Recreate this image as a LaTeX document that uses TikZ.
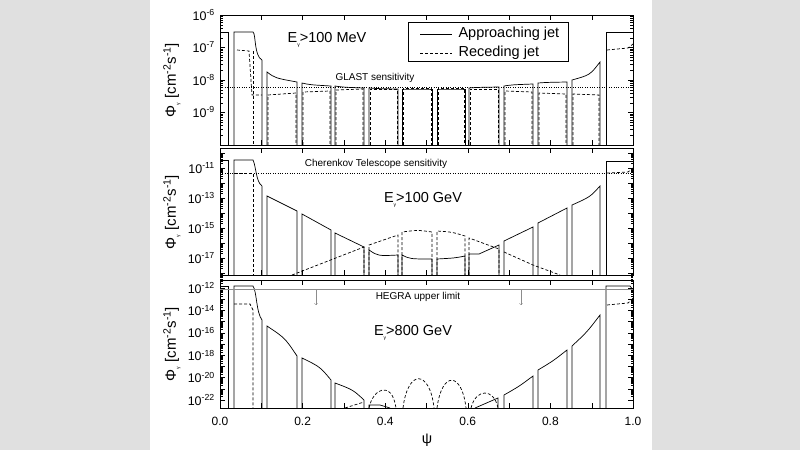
\documentclass[tikz,border=0pt]{standalone}
\usepackage{fontspec}
\setmainfont{Liberation Sans}
\begin{document}
\begin{tikzpicture}[x=1pt,y=-1pt,
  app/.style={line width=0.7pt},
  rec/.style={line width=0.7pt,dash pattern=on 3pt off 2pt},
  frame/.style={line width=1pt},
  ticklab/.style={font=\fontsize{12.5}{13}\selectfont,anchor=east,inner sep=1pt},
  ylab/.style={font=\fontsize{15}{16}\selectfont,rotate=90},
  txt/.style={font=\fontsize{12}{13}\selectfont},
  big/.style={font=\fontsize{14.5}{15}\selectfont}]
\useasboundingbox (0,0) rectangle (800,450);
\fill[black!12] (0,0) rectangle (800,450);
\fill[white] (150,0) rectangle (652,450);
% frames
\draw[frame] (220,15) rectangle (633,145);
\draw[frame] (220,148) rectangle (633,275);
\draw[frame] (220,280) rectangle (633,408);
% x ticks
\foreach \i in {0,...,10}{
  \pgfmathsetmacro\xx{220+41.3*\i}
  \foreach \ya/\yb in {15/145,148/275,280/408}{
    \draw (\xx,\ya) -- ++(0,5); \draw (\xx,\yb) -- ++(0,-5);}}
% y ticks top (32.5 px/decade)
\foreach \k in {0,...,4}{
  \pgfmathsetmacro\yy{15+32.5*\k}
  \draw (220,\yy)--++(5,0); \draw (633,\yy)--++(-5,0);
  \ifnum\k<4 \foreach \m in {2,...,9}{
    \pgfmathsetmacro\ym{\yy+32.5-32.5*log10(\m)}
    \draw (220,\ym)--++(3,0); \draw (633,\ym)--++(-3,0);}\fi}
% middle (15 px/decade, 10^-10 at 153)
\foreach \k in {0,...,8}{
  \pgfmathsetmacro\yy{153+15*\k}
  \draw (220,\yy)--++(5,0); \draw (633,\yy)--++(-5,0);
  \foreach \m in {2,...,9}{
    \pgfmathsetmacro\ym{\yy+15-15*log10(\m)}
    \draw (220,\ym)--++(2.5,0); \draw (633,\ym)--++(-2.5,0);}}
% bottom (11.2 px/decade, 10^-12 at 288)
\foreach \k in {0,...,10}{
  \pgfmathsetmacro\yy{288+11.2*\k}
  \draw (220,\yy)--++(5,0); \draw (633,\yy)--++(-5,0);
  \ifnum\k<10 \foreach \m in {2,...,9}{
    \pgfmathsetmacro\ym{\yy+11.2-11.2*log10(\m)}
    \draw (220,\ym)--++(2.5,0); \draw (633,\ym)--++(-2.5,0);}\fi}
% tick labels
\node[ticklab] (t1) at (216,15) {10\textsuperscript{-6}};
\node[ticklab] (t2) at (216,47) {10\textsuperscript{-7}};
\node[ticklab] (t3) at (216,80) {10\textsuperscript{-8}};
\node[ticklab] (t4) at (216,112) {10\textsuperscript{-9}};
\node[ticklab] (m1) at (216,168) {10\textsuperscript{-11}};
\node[ticklab] (m2) at (216,198) {10\textsuperscript{-13}};
\node[ticklab] (m3) at (216,228) {10\textsuperscript{-15}};
\node[ticklab] (m4) at (216,258) {10\textsuperscript{-17}};
\foreach \e/\k in {12/0,14/2,16/4,18/6,20/8,22/10}{
  \node[ticklab] (b\e) at (216,{288+11.2*\k}) {10\textsuperscript{-\e}};}
\foreach \v/\i in {0.0/0,0.2/2,0.4/4,0.6/6,0.8/8,1.0/10}{
  \node[txt] (x\i) at ({220+41.3*\i},421) {\v};}
\node[big] (psi) at (427,440) {ψ};
\foreach \yc/\n in {80/ya,212/yb,344/yc}{
  \node[ylab] (\n) at (172,\yc) {Φ\raisebox{-0.5ex}{\tiny γ} [cm\textsuperscript{-2}s\textsuperscript{-1}]};}
% ===== top panel
\draw[app] (220,145)--(220,32)--(228,32)--(228,145);
\draw[app] (234,145)--(234,32)--(253,32) .. controls (256,34) and (254,56) .. (262,60)--(262,145);
\draw[rec] (237,50)--(249,51)--(252,95)--(262,95);
\draw[rec] (253,51)--(253,145);
\foreach \a/\b/\ya/\yb/\ra/\rb in {267/297/72/82/95/93, 302/331/83/86/92/91, 335/364/86/88/90/89, 369/398/88/89/89/89, 402/432/89/89/88/88, 437/465/89/89/88/88, 469/499/88/87/89/89, 504/533/86/84/91/92, 538/567/83/82/93/94}{
  \draw[app] (\a,145)--(\a,\ya) .. controls ({\a+8},{\ya+(\yb-\ya)*0.6}) .. (\b,\yb)--(\b,145);
  \draw[rec] ({\a+1},145)--({\a+1},\ra)--({\b-1},\rb)--({\b-1},145);}
\draw[app] (572,145)--(572,80) .. controls (590,75) .. (600,62)--(600,145);
\draw[rec] (573,145)--(573,94)--(599,95)--(599,145);
\draw[app] (606,145)--(606,32)--(633,32);
\draw[rec] (607,50)--(628,48)--(633,44);
\draw[dotted] (220,87)--(633,87);
\node[txt,font=\fontsize{10}{11}\selectfont] (glast) at (375,78) {GLAST sensitivity};
\node[big] (e1) at (327,40) {E\raisebox{-0.6ex}{\tiny γ}>100 MeV};
\draw (408,22) rectangle (568,61);
\coordinate (la1) at (420,34); \coordinate (la2) at (452,34);
\coordinate (lr1) at (420,53); \coordinate (lr2) at (452,53);
\draw[app] (la1)--(la2);
\draw[rec] (lr1)--(lr2);
\node[big,anchor=west] (l1) at (455,34) {Approaching jet};
\node[big,anchor=west] (l2) at (455,53) {Receding jet};
% ===== middle panel
\draw[app] (220,275)--(220,160)--(228,160)--(228,275);
\draw[app] (234,275)--(234,160)--(253,160) .. controls (256,166) and (256,182) .. (262,186)--(262,275);
\draw[rec] (234,173)--(253,173)--(253,275);
\foreach \a/\b/\ya/\yb in {267/297/196/211, 302/331/214/230, 335/364/233/247, 504/533/241/227, 538/567/223/208}{
  \draw[app] (\a,275)--(\a,\ya)--(\b,\yb)--(\b,275);}
\draw[app] (369,275)--(369,250) .. controls (378,256) .. (398,255)--(398,275);
\draw[app] (402,275)--(402,255) .. controls (410,259) .. (432,259)--(432,275);
\draw[app] (437,275)--(437,259) .. controls (455,258) .. (465,256)--(465,275);
\draw[app] (469,275)--(469,254)--(479,254)--(499,245)--(499,275);
\draw[app] (572,275)--(572,205) .. controls (590,197) .. (600,186)--(600,275);
\draw[app] (606,275)--(606,161)--(633,161);
\draw[rec] (292,275)--(364,247)--(364,275);
\draw[rec] (369,275)--(369,245)--(398,235)--(398,275);
\draw[rec] (402,275)--(402,232) .. controls (418,230) .. (432,232)--(432,275);
\draw[rec] (437,275)--(437,231) .. controls (452,232) .. (465,236)--(465,275);
\draw[rec] (469,275)--(469,238)--(499,249)--(499,275);
\draw[rec] (504,252)--(533,265)--(560,275);
\draw[rec] (607,173)--(628,172)--(633,168);
\draw[dotted] (220,173)--(633,173);
\node[txt,font=\fontsize{10}{11}\selectfont] (cher) at (376,164) {Cherenkov Telescope sensitivity};
\node[big] (e2) at (423,200) {E\raisebox{-0.6ex}{\tiny γ}>100 GeV};
% ===== bottom panel
\draw[app] (220,408)--(220,286)--(228,286)--(228,408);
\draw[app] (234,408)--(234,286)--(253,286) .. controls (257,292) and (256,312) .. (262,320)--(262,408);
\draw[rec] (234,304)--(250,304)--(253,310)--(253,408);
\foreach \a/\b/\ya/\yb in {267/297/326/356, 302/331/358/380, 335/364/383/400}{
  \draw[app] (\a,408)--(\a,\ya) .. controls ({\a+18},{\ya+(\yb-\ya)*0.4}) .. (\b,\yb)--(\b,408);}
\draw[app] (369,408)--(369,405)--(380,405)--(390,408);
\draw[app] (475,408)--(498,398)--(498,408);
\foreach \a/\b/\ya/\yb in {504/533/395/376, 538/567/370/350, 572/600/346/315}{
  \draw[app] (\a,408)--(\a,\ya) .. controls ({\a+15},{\ya-(\ya-\yb)*0.45}) .. (\b,\yb)--(\b,408);}
\draw[app] (606,408)--(606,286)--(630,286)--(633,290);
\draw[rec] (345,408)--(364,402);
\draw[rec] (369,408) .. controls (373,388) and (392,380) .. (396,408);
\draw[rec] (403,408) .. controls (408,368) and (430,370) .. (434,408);
\draw[rec] (437,408) .. controls (442,370) and (462,372) .. (466,408);
\draw[rec] (471,408) .. controls (476,388) and (494,388) .. (498,408);
\draw[rec] (607,305)--(628,303)--(633,298);
\draw[black!45,line width=0.8pt] (220,289)--(633,289);
\coordinate (ha1) at (316,290); \coordinate (ha2) at (316,305);
\coordinate (hb1) at (521,290); \coordinate (hb2) at (521,305);
\draw[black!45,->] (ha1)--(ha2);
\draw[black!45,->] (hb1)--(hb2);
\node[txt,font=\fontsize{10}{11}\selectfont] (hegra) at (418,297) {HEGRA upper limit};
\node[big] (e3) at (413,333) {E\raisebox{-0.6ex}{\tiny γ}>800 GeV};
\end{tikzpicture}
\end{document}
